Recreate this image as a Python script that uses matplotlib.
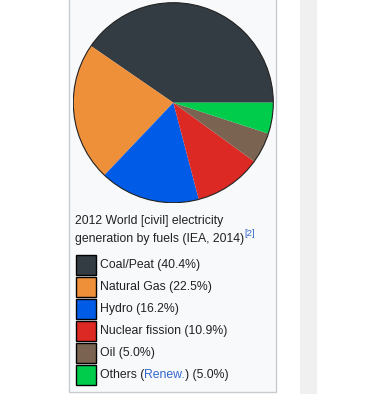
import matplotlib
matplotlib.use("Agg")
import matplotlib.pyplot as plt
from matplotlib.patches import Rectangle

labels = ["Coal/Peat", "Natural Gas", "Hydro", "Nuclear fission", "Oil", "Others"]
values = [40.4, 22.5, 16.2, 10.9, 5.0, 5.0]
colors = ["#333c42", "#ee8f3a", "#005ce6", "#dc2923", "#7a6451", "#00cc4c"]
caption_lines = ["2012 World [civil] electricity", "generation by fuels (IEA, 2014)"]

W, H = 385, 394
fig = plt.figure(figsize=(W / 100, H / 100), dpi=100)
fig.patch.set_facecolor("white")

bg = fig.add_axes([0, 0, 1, 1])
bg.set_xlim(0, W)
bg.set_ylim(H, 0)
bg.axis("off")

# infobox
bg.add_patch(Rectangle((68.5, -5), 207, 397, facecolor="#f8f9fa", edgecolor="#c8ccd1", lw=1))
# scrollbar-like stripe
bg.add_patch(Rectangle((300, 0), 17, H, facecolor="#f0f0f0", edgecolor="none"))

# pie
cx, cy, r = 173.3, 102.7, 100.5
pax = fig.add_axes([(cx - r) / W, 1 - (cy + r) / H, 2 * r / W, 2 * r / H])
wedges, _ = pax.pie(values, colors=colors, startangle=0, counterclock=True,
                    radius=1, wedgeprops=dict(linewidth=0))
circ = plt.Circle((0, 0), 1, fill=False, edgecolor="#222222", lw=0.8)
pax.add_patch(circ)
pax.set_xlim(-1.005, 1.005)
pax.set_ylim(-1.005, 1.005)
pax.set_aspect("equal")
pax.axis("off")

font = "Liberation Sans"
fs = 8.8
tc = "#202122"
link = "#3366cc"

bg.text(75, 221, caption_lines[0], fontsize=fs, family=font, color=tc, va="center", ha="left")
t2 = bg.text(75, 239, caption_lines[1], fontsize=fs, family=font, color=tc, va="center", ha="left")

fig.canvas.draw()
renderer = fig.canvas.get_renderer()
inv = bg.transData.inverted()

def right_x(t):
    bb = t.get_window_extent(renderer)
    return inv.transform((bb.x1, bb.y0))[0]

bg.text(right_x(t2) + 0.5, 233, "[2]", fontsize=6.8, family=font, color=link, va="center", ha="left")

y0 = 265.3
tx = 100
for i, (lab, val, col) in enumerate(zip(labels, values, colors)):
    y = y0 + 22 * i
    bg.add_patch(Rectangle((75.5, y - 10), 20, 20, facecolor=col, edgecolor="black", lw=1))
    if lab == "Others":
        a = bg.text(tx, y, "Others (", fontsize=fs, family=font, color=tc, va="center", ha="left")
        fig.canvas.draw()
        b = bg.text(right_x(a), y, "Renew.", fontsize=fs, family=font, color=link, va="center", ha="left")
        fig.canvas.draw()
        bg.text(right_x(b), y, f") ({val:.1f}%)", fontsize=fs, family=font, color=tc, va="center", ha="left")
    else:
        bg.text(tx, y, f"{lab} ({val:.1f}%)", fontsize=fs, family=font, color=tc, va="center", ha="left")

fig.savefig("out.png", dpi=100, facecolor="white")
